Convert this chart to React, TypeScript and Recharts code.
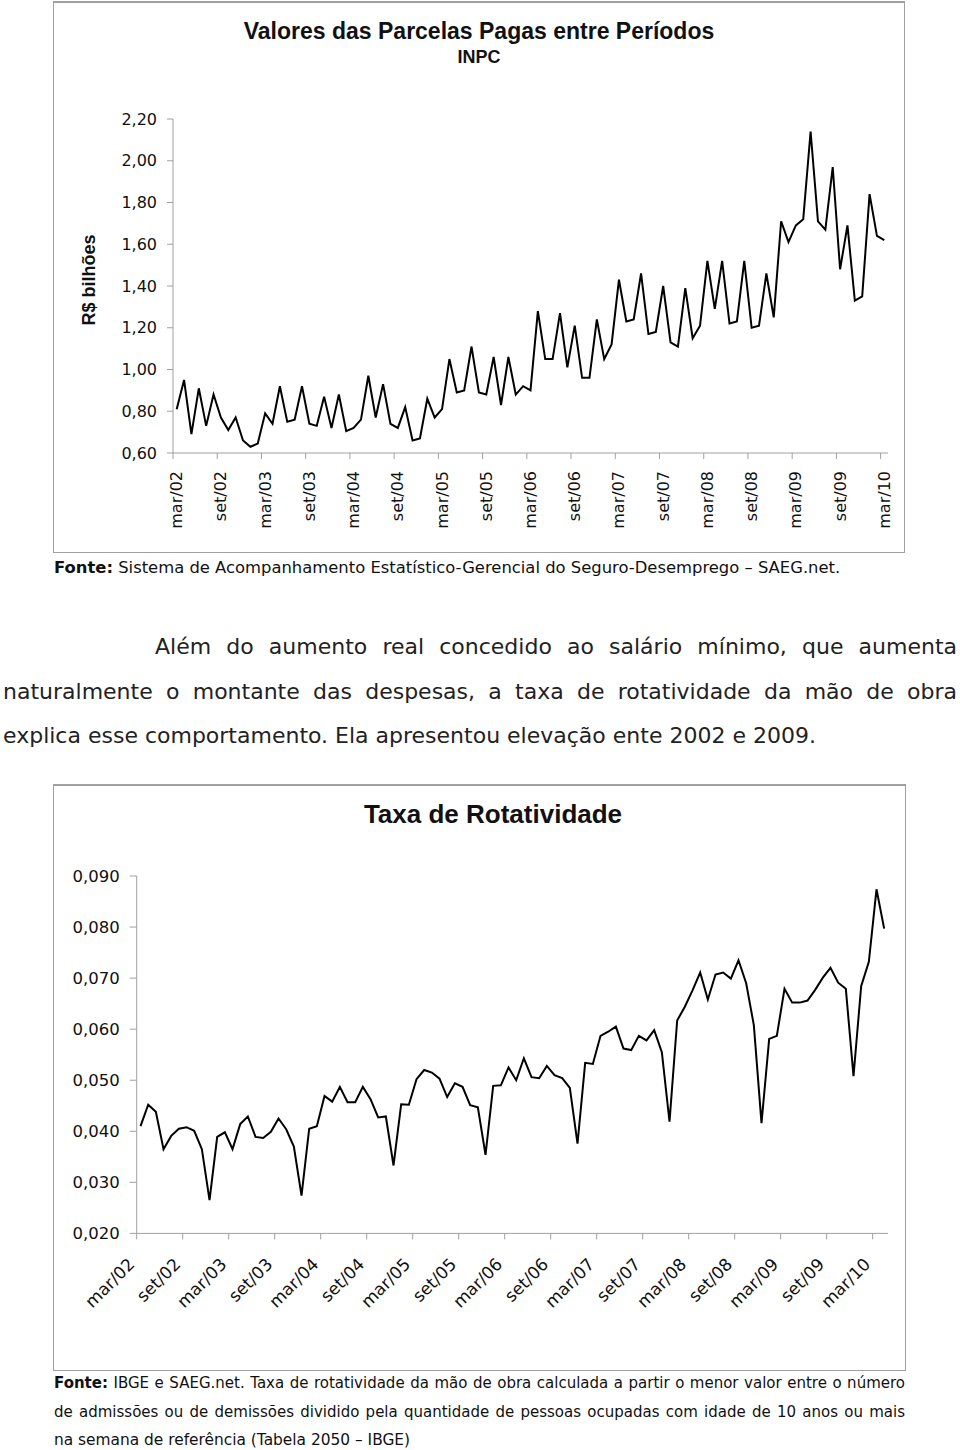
import React from "react"
import { LineChart, Line, XAxis, YAxis } from "recharts"

// meses em português, para montar as categorias mensais
const MESES = ["jan", "fev", "mar", "abr", "mai", "jun", "jul", "ago", "set", "out", "nov", "dez"]

// Valores das parcelas pagas (R$ bilhões, INPC), mar/02 a mar/10
const PARCELAS = [
  0.81, 0.95, 0.69, 0.91, 0.73, 0.88, 0.77, 0.71, 0.77, 0.66, 0.63, 0.645,
  0.79, 0.74, 0.92, 0.75, 0.76, 0.92, 0.74, 0.73, 0.87, 0.72, 0.88, 0.705,
  0.72, 0.76, 0.97, 0.77, 0.93, 0.74, 0.72, 0.82, 0.66, 0.67, 0.86, 0.77,
  0.81, 1.05, 0.89, 0.9, 1.11, 0.89, 0.88, 1.06, 0.83, 1.06, 0.88, 0.92,
  0.9, 1.28, 1.05, 1.05, 1.27, 1.01, 1.21, 0.96, 0.96, 1.24, 1.05, 1.12,
  1.43, 1.23, 1.24, 1.46, 1.17, 1.18, 1.4, 1.13, 1.11, 1.39, 1.15, 1.21,
  1.52, 1.29, 1.52, 1.22, 1.23, 1.52, 1.2, 1.21, 1.46, 1.25, 1.71, 1.61,
  1.69, 1.72, 2.14, 1.71, 1.67, 1.97, 1.48, 1.69, 1.33, 1.35, 1.84, 1.64,
  1.62,
]

// Taxa de rotatividade, mar/02 a abr/10
const ROTATIVIDADE = [
  0.041, 0.0452, 0.0438, 0.0365, 0.0391, 0.0405, 0.0408, 0.0401, 0.0365, 0.0265, 0.0389, 0.0398,
  0.0365, 0.0414, 0.0429, 0.0389, 0.0387, 0.0399, 0.0425, 0.0404, 0.037, 0.0274, 0.0405, 0.041,
  0.0469, 0.0458, 0.0487, 0.0457, 0.0457, 0.0487, 0.0463, 0.0427, 0.0429, 0.0333, 0.0453, 0.0452,
  0.0502, 0.052, 0.0515, 0.0503, 0.0467, 0.0494, 0.0487, 0.0451, 0.0447, 0.0354, 0.0489, 0.049,
  0.0525, 0.05, 0.0543, 0.0506, 0.0504, 0.0528, 0.051, 0.0504, 0.0485, 0.0376, 0.0534, 0.0532,
  0.0587, 0.0595, 0.0605, 0.0562, 0.0559, 0.0587, 0.0578, 0.0598, 0.0555, 0.0419, 0.0617, 0.0644,
  0.0676, 0.0711, 0.0658, 0.0707, 0.0711, 0.0699, 0.0735, 0.069, 0.0608, 0.0416, 0.0581, 0.0587,
  0.0679, 0.0652, 0.0652, 0.0656, 0.0677, 0.0701, 0.072, 0.0691, 0.0679, 0.0508, 0.0684, 0.0732,
  0.0874, 0.0797,
]

const Y1_TICKS = [0.6, 0.8, 1.0, 1.2, 1.4, 1.6, 1.8, 2.0, 2.2]
const Y2_TICKS = [0.02, 0.03, 0.04, 0.05, 0.06, 0.07, 0.08, 0.09]

// first month is mar/02 (index 2 of MESES, year 2002)
function mesLabel(i: number) {
  const m = (2 + i) % 12
  const ano = 2 + Math.floor((2 + i) / 12)
  return `${MESES[m]}/${String(ano).padStart(2, "0")}`
}

const dados1 = PARCELAS.map((v, i) => ({ mes: mesLabel(i), v }))
const dados2 = ROTATIVIDADE.map((v, i) => ({ mes: mesLabel(i), v }))

const AXIS = "#a0a0a0"
const INK = "#111"
const SANS = "'DejaVu Sans', sans-serif"
const ARIAL = "'Liberation Sans', Arial, sans-serif"

const PLOT1_W = 715
const PLOT2_W = 751.3

const XTick1 = (props: any) => {
  const { x, y, payload } = props
  const half = PLOT1_W / PARCELAS.length / 2
  return (
    <g>
      <line x1={x - half} y1={y} x2={x - half} y2={y + 6} stroke={AXIS} />
      <text
        transform={`translate(${x},${y + 18}) rotate(-90)`}
        textAnchor="end"
        dominantBaseline="central"
        fontSize={16}
        fontFamily={SANS}
        fill={INK}
      >
        {payload.value}
      </text>
    </g>
  )
}

const XTick2 = (props: any) => {
  const { x, y, payload } = props
  const half = PLOT2_W / ROTATIVIDADE.length / 2
  return (
    <g>
      <line x1={x - half} y1={y} x2={x - half} y2={y + 6} stroke={AXIS} />
      <text
        transform={`translate(${x - 5},${y + 32}) rotate(-45)`}
        textAnchor="end"
        fontSize={17}
        fontFamily={SANS}
        fill={INK}
      >
        {payload.value}
      </text>
    </g>
  )
}

const fmt2 = (v: number) => v.toFixed(2).replace(".", ",")
const fmt3 = (v: number) => v.toFixed(3).replace(".", ",")

const abs = (s: React.CSSProperties): React.CSSProperties => ({ position: "absolute", ...s })

export default function App() {
  const justLine: React.CSSProperties = { textAlign: "justify", textAlignLast: "justify", whiteSpace: "nowrap" }
  return (
    <div style={abs({ left: 0, top: 0, width: 960, height: 1450, background: "#fff", overflow: "hidden", color: INK })}>
      {/* caixa do gráfico 1 */}
      <div style={abs({ left: 53, top: 1, width: 850, height: 549, border: `1px solid ${AXIS}`, borderTopWidth: 2 })} />
      <div style={abs({ left: 53, top: 16, width: 852, textAlign: "center", fontFamily: ARIAL, fontWeight: 700, fontSize: 23, lineHeight: "30px" })}>
        Valores das Parcelas Pagas entre Períodos
      </div>
      <div style={abs({ left: 53, top: 46, width: 852, textAlign: "center", fontFamily: ARIAL, fontWeight: 700, fontSize: 18, lineHeight: "22px" })}>
        INPC
      </div>
      <div
        style={abs({
          left: 89 - 60,
          top: 280 - 12,
          width: 120,
          height: 24,
          lineHeight: "24px",
          textAlign: "center",
          transform: "rotate(-90deg)",
          fontFamily: ARIAL,
          fontWeight: 700,
          fontSize: 18,
        })}
      >
        R$ bilhões
      </div>
      <div style={abs({ left: 0, top: 0 })}>
        <LineChart width={960} height={560} data={dados1} margin={{ top: 119, right: 72, bottom: 47, left: 113 }}>
          <XAxis
            dataKey="mes"
            scale="band"
            interval={5}
            height={60}
            tickSize={0}
            tickMargin={0}
            tickLine={false}
            axisLine={{ stroke: AXIS }}
            tick={XTick1}
          />
          <YAxis
            domain={[0.6, 2.2]}
            ticks={Y1_TICKS}
            tickFormatter={fmt2}
            width={60}
            tickSize={6}
            tickMargin={10}
            axisLine={{ stroke: AXIS }}
            tickLine={{ stroke: AXIS }}
            tick={{ fontSize: 16, fontFamily: SANS, fill: INK }}
          />
          <Line type="linear" dataKey="v" stroke="#000" strokeWidth={2} dot={false} isAnimationActive={false} />
        </LineChart>
      </div>
      <div style={abs({ left: 54, top: 558, fontFamily: SANS, fontSize: 16.4, lineHeight: "20px", whiteSpace: "nowrap" })}>
        <b>Fonte:</b> Sistema de Acompanhamento Estatístico-Gerencial do Seguro-Desemprego – SAEG.net.
      </div>

      {/* parágrafo */}
      <div style={abs({ left: 3, top: 625, width: 954, fontFamily: SANS, fontSize: 22, lineHeight: "44.5px", color: "#222" })}>
        <div style={{ ...justLine, paddingLeft: 152 }}>Além do aumento real concedido ao salário mínimo, que aumenta</div>
        <div style={justLine}>naturalmente o montante das despesas, a taxa de rotatividade da mão de obra</div>
        <div style={{ whiteSpace: "nowrap" }}>explica esse comportamento. Ela apresentou elevação ente 2002 e 2009.</div>
      </div>

      {/* caixa do gráfico 2 */}
      <div style={abs({ left: 53, top: 784, width: 851, height: 584, border: `1px solid ${AXIS}`, borderTopWidth: 2 })} />
      <div style={abs({ left: 53, top: 799, width: 880, textAlign: "center", fontFamily: ARIAL, fontWeight: 700, fontSize: 26, lineHeight: "30px" })}>
        Taxa de Rotatividade
      </div>
      <div style={abs({ left: 0, top: 780 })}>
        <LineChart width={960} height={600} data={dados2} margin={{ top: 96, right: 72, bottom: 86.6, left: 76.7 }}>
          <XAxis
            dataKey="mes"
            scale="band"
            interval={5}
            height={60}
            tickSize={0}
            tickMargin={0}
            tickLine={false}
            axisLine={{ stroke: AXIS }}
            tick={XTick2}
          />
          <YAxis
            domain={[0.02, 0.09]}
            ticks={Y2_TICKS}
            tickFormatter={fmt3}
            width={60}
            tickSize={7}
            tickMargin={10}
            axisLine={{ stroke: AXIS }}
            tickLine={{ stroke: AXIS }}
            tick={{ fontSize: 16.5, fontFamily: SANS, fill: INK }}
          />
          <Line type="linear" dataKey="v" stroke="#000" strokeWidth={2} dot={false} isAnimationActive={false} />
        </LineChart>
      </div>
      <div style={abs({ left: 54, top: 1369, width: 851, fontFamily: SANS, fontSize: 15, lineHeight: "28.5px" })}>
        <div style={justLine}>
          <b>Fonte:</b> IBGE e SAEG.net. Taxa de rotatividade da mão de obra calculada a partir o menor valor entre o número
        </div>
        <div style={justLine}>
          de admissões ou de demissões dividido pela quantidade de pessoas ocupadas com idade de 10 anos ou mais
        </div>
        <div style={{ whiteSpace: "nowrap", fontSize: 15.4 }}>na semana de referência (Tabela 2050 – IBGE)</div>
      </div>
    </div>
  )
}
